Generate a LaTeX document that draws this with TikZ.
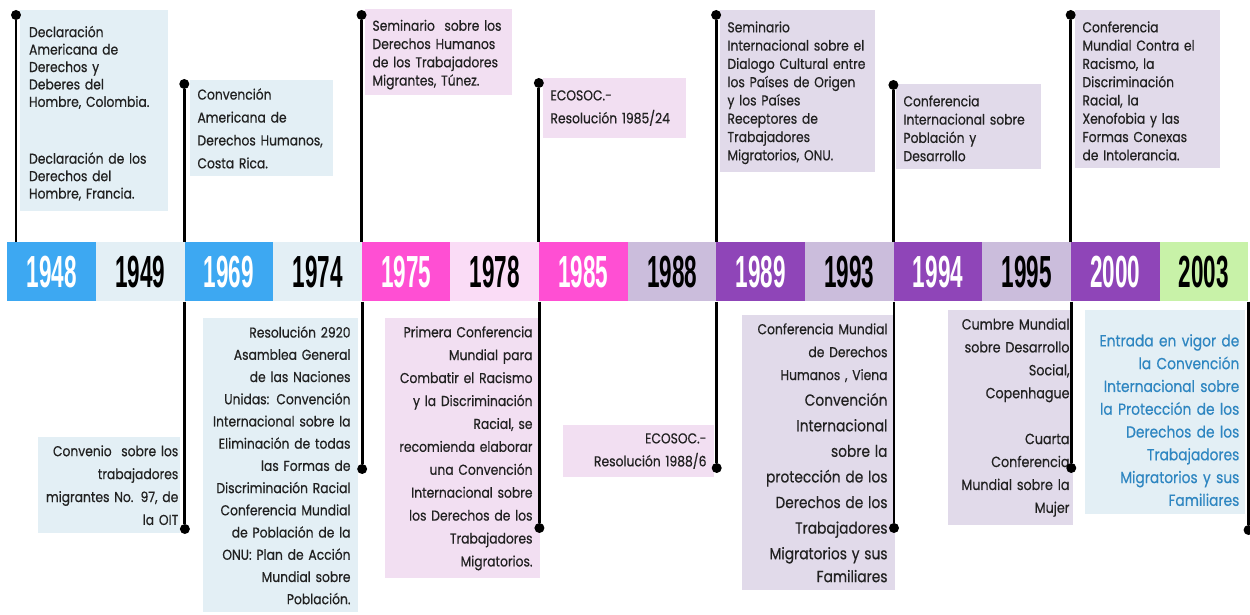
\documentclass[tikz,border=0pt]{standalone}
\usepackage{fontspec}
\usepackage{graphicx}
\setmainfont{Poppins}[FakeStretch=0.86,FakeBold=0.5]
\newfontfamily\yearfont{Liberation Sans}
\definecolor{yrBlue}{HTML}{3DA8F2}
\definecolor{yrBlueLt}{HTML}{E3EFF5}
\definecolor{yrPink}{HTML}{FF4FD3}
\definecolor{yrPinkLt}{HTML}{FADCF6}
\definecolor{yrPurple}{HTML}{8F45B8}
\definecolor{yrPurpleLt}{HTML}{CBBDDC}
\definecolor{yrGreen}{HTML}{C8F2A8}
\definecolor{boxBlue}{HTML}{E3EFF5}
\definecolor{boxPink}{HTML}{F2DFF2}
\definecolor{boxPurple}{HTML}{E1DAEA}
\definecolor{txtBlue}{HTML}{2E86C1}
\newcommand\tightfont{\fontsize{10.2}{13}\selectfont\hyphenpenalty=10000}
\newcommand\loosefont{\fontsize{10.2}{16.3}\selectfont\hyphenpenalty=10000}
\newcommand\yrtxt[1]{\scalebox{0.5}[1]{\yearfont\fontsize{32}{32}\selectfont\bfseries #1}}
\begin{document}
\begin{tikzpicture}[x=0.025cm,y=-0.025cm,
  yrcell/.style={anchor=north west,minimum width=2.216cm,minimum height=1.475cm,inner sep=0pt},
  evt/.style={anchor=north west,inner xsep=0.18cm,inner ysep=0.2cm,text=black!87},
  evtL/.style={evt,align=left},
  evtR/.style={evt,align=right},
  stem/.style={line width=2.1pt},
  dot/.style={circle,fill=black,inner sep=0pt,minimum size=0.25cm}]
\useasboundingbox (0,0) rectangle (1250,615);
\fill[white] (0,0) rectangle (1250,615);

% eventos de arriba
\node[evtL,font={\fontsize{10.2}{12.4}\selectfont\hyphenpenalty=10000},fill=boxBlue,text width=3.25cm,inner xsep=0.22cm,inner ysep=0.25cm] (ev1948) at (20,10)
  {\rule{0pt}{12pt}Declaración\\Americana de\\Derechos y\\Deberes del\\Hombre, Colombia.\\[28pt]Declaración de los\\Derechos del\\Hombre, Francia.};
\node[evtL,font=\loosefont,fill=boxBlue,text width=3.2cm] (ev1969a) at (190,80)
  {Convención\\Americana de\\Derechos Humanos,\\Costa Rica.};
\node[evtL,font=\tightfont,fill=boxPink,text width=3.3cm,inner ysep=0.15cm] (ev1975a) at (365,9)
  {\rule{0pt}{11pt}Seminario~ sobre los\\Derechos Humanos\\de los Trabajadores\\Migrantes, Túnez.};
\node[evtL,font=\loosefont,fill=boxPink,text width=3.2cm,inner ysep=0.3cm] (ev1985a) at (543,78)
  {ECOSOC.-\\Resolución 1985/24};
\node[evtL,font=\tightfont,fill=boxPurple,text width=3.5cm] (ev1989a) at (720,10)
  {\rule{0pt}{10pt}Seminario\\Internacional sobre el\\Dialogo Cultural entre\\los Países de Origen\\y los Países\\Receptores de\\Trabajadores\\Migratorios, ONU.};
\node[evtL,font=\tightfont,fill=boxPurple,text width=3.25cm] (ev1994a) at (896,84)
  {\rule{0pt}{10pt}Conferencia\\Internacional sobre\\Población y\\Desarrollo};
\node[evtL,font=\tightfont,fill=boxPurple,text width=3.25cm] (ev2000a) at (1075,10)
  {\rule{0pt}{10pt}Conferencia\\Mundial Contra el\\Racismo, la\\Discriminación\\Racial, la\\Xenofobia y las\\Formas Conexas\\de Intolerancia.};

% eventos de abajo
\node[evtR,font=\loosefont,fill=boxBlue,text width=3.45cm,inner xsep=0.05cm] (ev1949) at (38,437)
  {Convenio~ sobre los\\trabajadores\\migrantes No. 97, de\\la OIT};
\node[evtR,font={\fontsize{10.2}{15.8}\selectfont\hyphenpenalty=10000},fill=boxBlue,text width=3.5cm] (ev1974) at (203,318)
  {Resolución 2920\\Asamblea General\\de las Naciones\\Unidas: Convención\\Internacional sobre la\\Eliminación de todas\\las Formas de\\Discriminación Racial\\Conferencia Mundial\\de Población de la\\ONU: Plan de Acción\\Mundial sobre\\Población.};
\node[evtR,font=\loosefont,fill=boxPink,text width=3.5cm] (ev1978) at (385,318)
  {Primera Conferencia\\Mundial para\\Combatir el Racismo\\y la Discriminación\\Racial, se\\recomienda elaborar\\una Convención\\Internacional sobre\\los Derechos de los\\Trabajadores\\Migratorios.};
\node[evtR,font=\loosefont,fill=boxPink,text width=3.4cm] (ev1988) at (563,425)
  {ECOSOC.-\\Resolución 1988/6};
\node[evtR,font=\loosefont,fill=boxPurple,text width=3.45cm] (ev1993) at (742,315)
  {Conferencia Mundial\\de Derechos\\Humanos , Viena\par
   \fontsize{11.4}{18.2}\selectfont Convención\\Internacional\\sobre la\\protección de los\\Derechos de los\\Trabajadores\\Migratorios y sus\\Familiares};
\node[evtR,font={\fontsize{10.5}{16.3}\selectfont\hyphenpenalty=10000},fill=boxPurple,text width=2.95cm,inner xsep=0.08cm] (ev1995) at (948,310)
  {Cumbre Mundial\\sobre Desarrollo\\Social,\\Copenhague\\[16.3pt]Cuarta\\Conferencia\\Mundial sobre la\\Mujer};
\node[evtR,font={\fontsize{11.4}{16.2}\selectfont\hyphenpenalty=10000},fill=boxBlue,text=txtBlue,text width=3.7cm,inner xsep=0.15cm] (ev2003) at (1085,310)
  {\rule{0pt}{20pt}Entrada en vigor de\\la Convención\\Internacional sobre\\la Protección de los\\Derechos de los\\Trabajadores\\Migratorios y sus\\Familiares};

% franja de años
\foreach \yy/\bg/\fg [count=\i] in {1948/yrBlue/white,1949/yrBlueLt/black,1969/yrBlue/white,1974/yrBlueLt/black,
  1975/yrPink/white,1978/yrPinkLt/black,1985/yrPink/white,1988/yrPurpleLt/black,1989/yrPurple/white,
  1993/yrPurpleLt/black,1994/yrPurple/white,1995/yrPurpleLt/black,2000/yrPurple/white,2003/yrGreen/black}
  \node[yrcell,fill=\bg,text=\fg] (s\i) at ({7+88.64*(\i-1)},242) {\yrtxt{\yy}};

% varillas
\node[dot] (t1) at (16,15) {};
\draw[stem] (t1) -- (t1 |- s1.north);
\foreach \sg/\dy [count=\j from 2] in {3/84,5/15,7/83,9/15,11/85,13/15}{
  \node[dot] (t\j) at (s\sg.north west |- 0,\dy) {};
  \draw[stem] (t\j) -- (s\sg.north west);
}
\foreach \sg/\dy [count=\j] in {2/529,4/469,6/528,8/468,10/528,12/468,14/530}{
  \node[dot] (b\j) at (s\sg.south east |- 0,\dy) {};
  \draw[stem] (s\sg.south east) -- (b\j);
}
\end{tikzpicture}
\end{document}
